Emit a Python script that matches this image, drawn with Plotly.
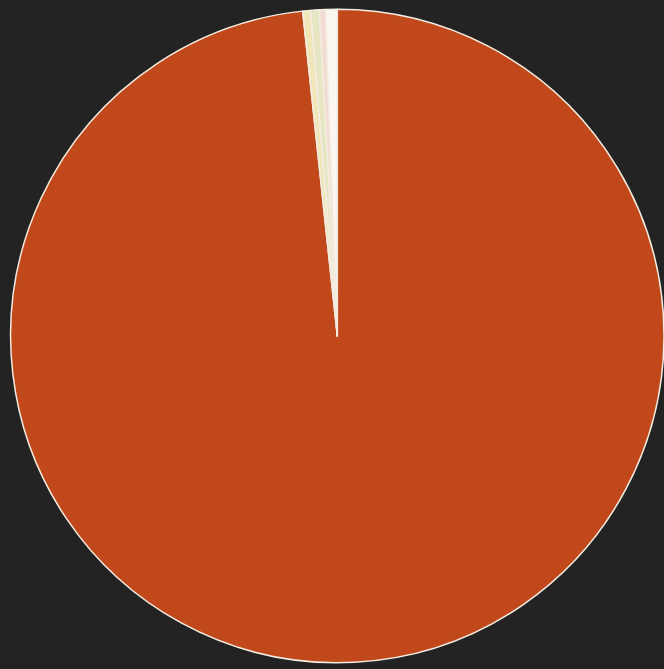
import plotly.graph_objects as go

# Share of each category (percent)
labels = ["A", "B", "C", "D", "E"]
values = [98.31, 0.39, 0.43, 0.29, 0.58]
colors = ["#c0481b", "#f0e6b8", "#e6e6c4", "#f2dcd2", "#fbf7f0"]

fig = go.Figure(
    go.Pie(
        labels=labels,
        values=values,
        sort=False,
        direction="clockwise",
        rotation=0,
        marker=dict(colors=colors, line=dict(color="#f4ece0", width=1.5)),
        textinfo="none",
        hoverinfo="label+percent",
        showlegend=False,
        domain=dict(x=[0.016, 1.0], y=[0.0076, 0.988]),
    )
)

fig.update_layout(
    width=664,
    height=669,
    margin=dict(l=0, r=0, t=0, b=0),
    paper_bgcolor="#232323",
    plot_bgcolor="#232323",
)

fig.write_html("out.html")
